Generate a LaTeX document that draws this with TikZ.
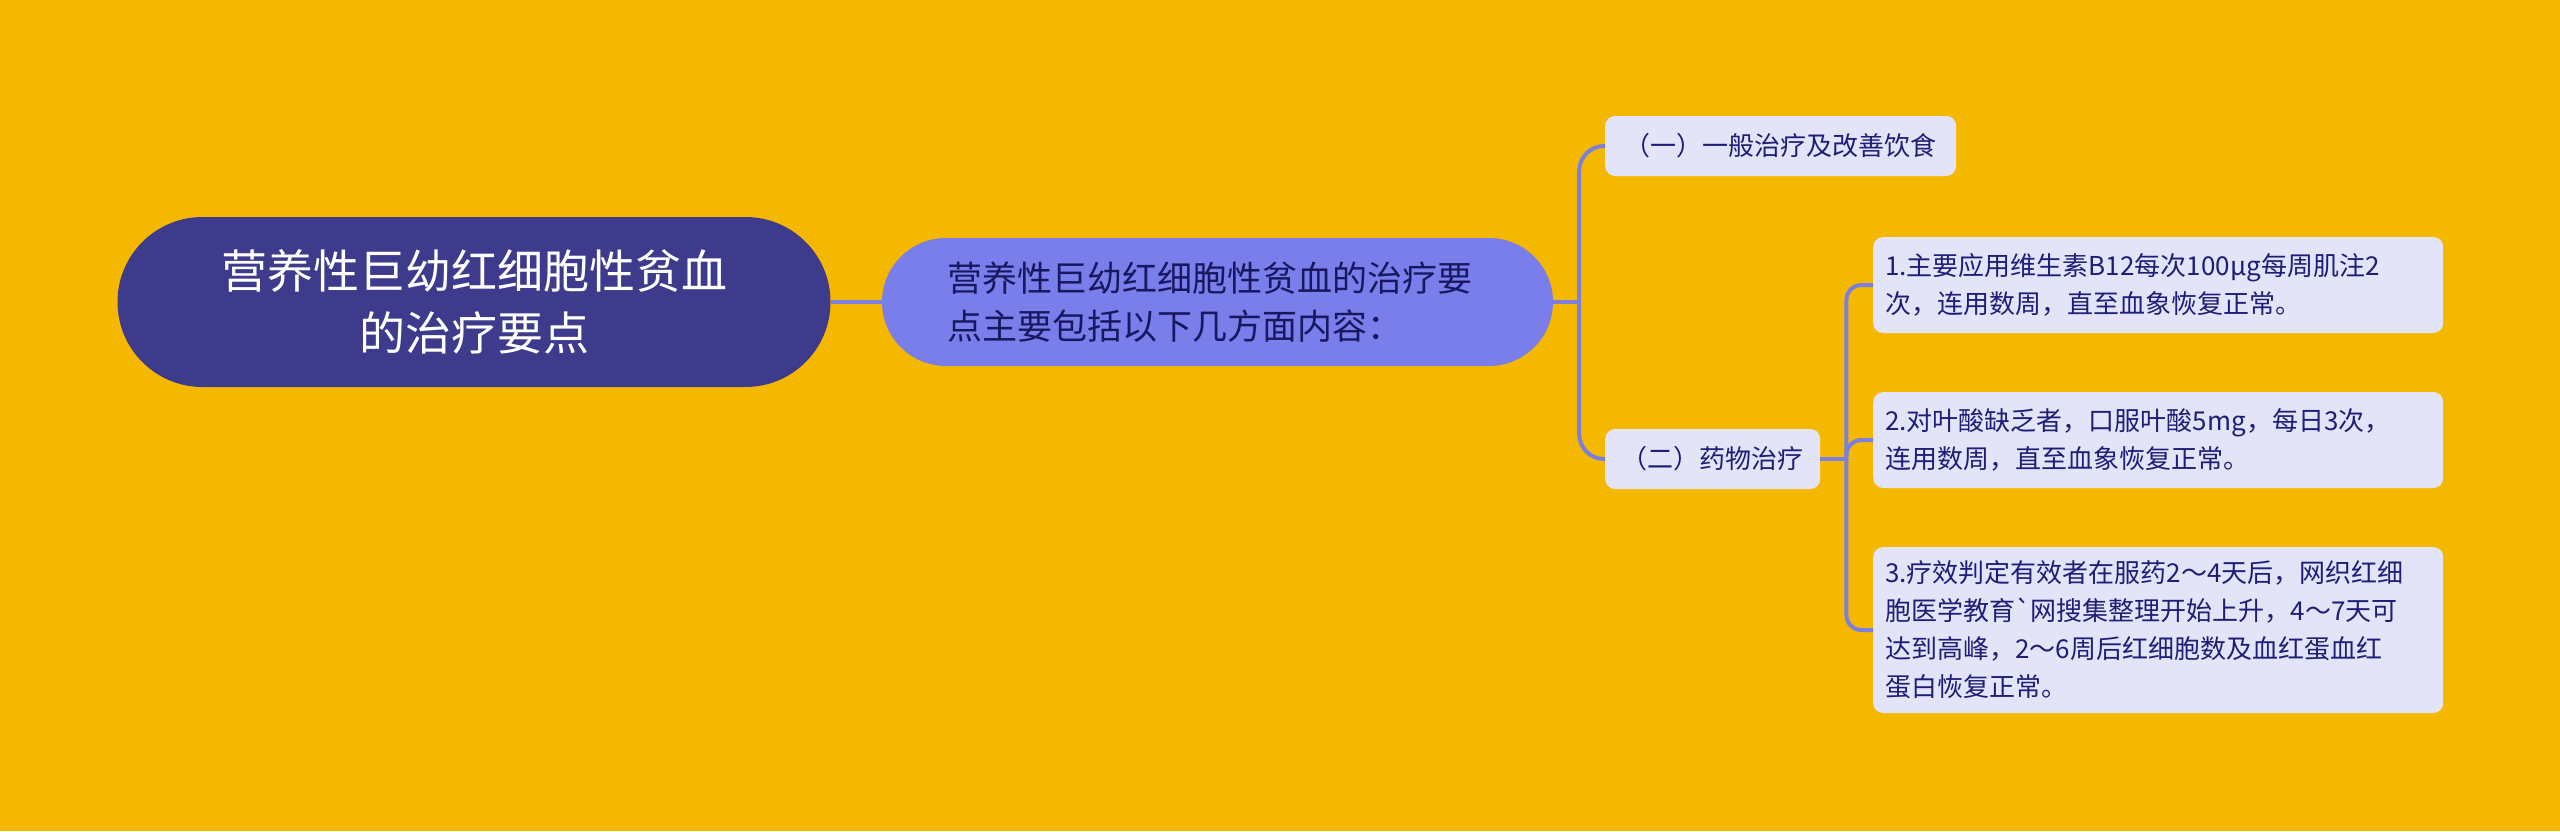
\documentclass[tikz,border=0pt]{standalone}
\usepackage{fontspec}
\newfontfamily\cjk{Noto Sans CJK SC}
\definecolor{bgyellow}{HTML}{F5B800}
\definecolor{rootblue}{HTML}{3E3A8C}
\definecolor{midblue}{HTML}{7A7EEA}
\definecolor{leaffill}{HTML}{E4E4F8}
\definecolor{linkblue}{HTML}{7B7FE0}
\definecolor{inkblue}{HTML}{1E1E78}

\begin{document}
\begin{tikzpicture}[x=1pt,y=-1pt]
        \tikzstyle{topic}=[rectangle, rounded corners=85, fill=rootblue, text=white, minimum width=713, minimum height=170, align=center, font=\cjk\fontsize{46}{62}\selectfont]
        \tikzstyle{summary}=[rectangle, rounded corners=64, fill=midblue, text=inkblue!80!black, minimum height=128, text width=541, inner xsep=65, align=left, font=\cjk\fontsize{35}{48}\selectfont]
        \tikzstyle{item}=[rectangle, rounded corners=10, fill=leaffill, text=inkblue, anchor=west, minimum height=60, align=center, font=\cjk\fontsize{26}{38}\selectfont]
        \tikzstyle{leaf}=[item, text width=546, inner xsep=12, align=left]
        \tikzstyle{link}=[draw=linkblue, line width=4]
        \fill[bgyellow] (0,0) rectangle (2560,831);
        \useasboundingbox (0,0) rectangle (2560,831);
        \node[topic] (root) at (474,302) {营养性巨幼红细胞性贫血\\的治疗要点};
        \node[summary] (mid) at (1217.5,302) {营养性巨幼红细胞性贫血的治疗要\\点主要包括以下几方面内容：};
        \node[item, minimum width=351] (diet) at (1605,146) {（一）一般治疗及改善饮食};
        \node[item, minimum width=215] (drug) at (1605,459) {（二）药物治疗};
        \node[leaf, minimum height=96] (b12) at (1873,285) {1.主要应用维生素B12每次100μg每周肌注2\\次，连用数周，直至血象恢复正常。};
        \node[leaf, minimum height=96] (folic) at (1873,440) {2.对叶酸缺乏者，口服叶酸5mg，每日3次，\\连用数周，直至血象恢复正常。};
        \node[leaf, minimum height=166] (effect) at (1873,630) {3.疗效判定有效者在服药2～4天后，网织红细\\胞医学教育`网搜集整理开始上升，4～7天可\\达到高峰，2～6周后红细胞数及血红蛋血红\\蛋白恢复正常。};
        % branches
        \draw[link] (root.east) -- (mid.west);
        \draw[link] (mid.east) -- ++(26,0) coordinate (fork1);
        \draw[link, rounded corners=25] (fork1) |- (diet.west);
        \draw[link, rounded corners=25] (fork1) |- (drug.west);
        \draw[link] (drug.east) -- ++(26,0) coordinate (fork2);
        \draw[link, rounded corners=15] (fork2) |- (b12.west);
        \draw[link, rounded corners=15] (fork2) |- (folic.west);
        \draw[link, rounded corners=15] (fork2) |- (effect.west);
\end{tikzpicture}
\end{document}
